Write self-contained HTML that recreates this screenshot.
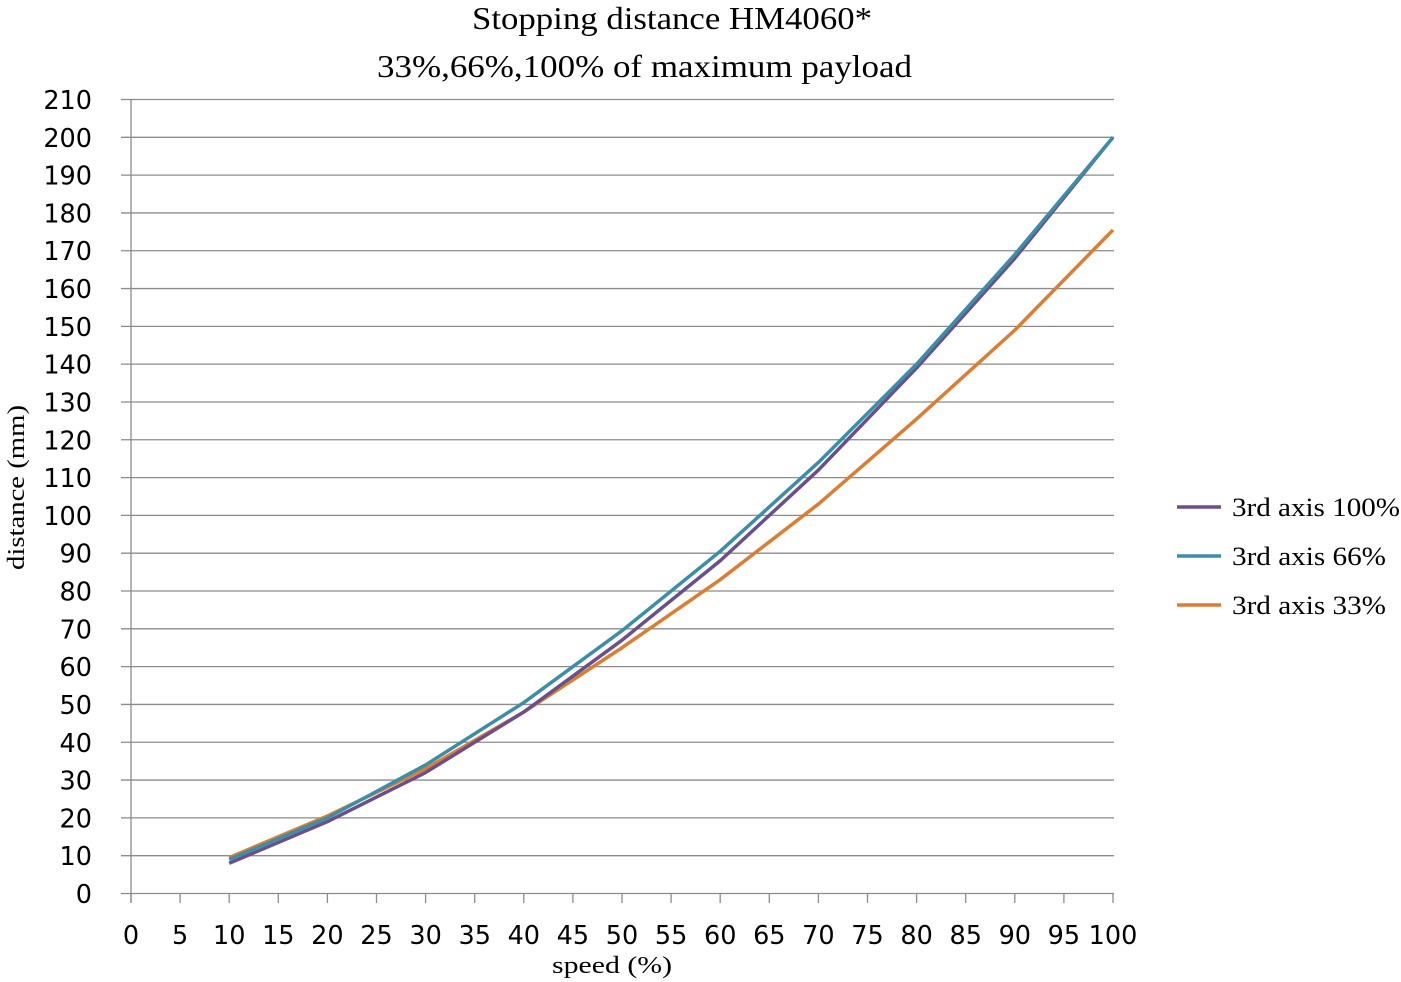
<!DOCTYPE html><html><head><style>body{margin:0;background:#fff}svg{display:block}</style></head><body>
<svg id="s" width="1401" height="982" xmlns="http://www.w3.org/2000/svg"></svg>
<script>
const s=document.getElementById('s');let h='';
const X=v=>131+v*9.82,Y=d=>893.5-d*3.781;
h+='<text x="472" y="29" textLength="400" lengthAdjust="spacingAndGlyphs" font-family="Liberation Serif,serif" font-size="32">Stopping distance HM4060*</text>';
h+='<text x="377" y="77" textLength="535" lengthAdjust="spacingAndGlyphs" font-family="Liberation Serif,serif" font-size="32">33%,66%,100% of maximum payload</text>';
for(let d=0;d<=210;d+=10){const y=Y(d);h+=`<line x1="121" x2="1114" y1="${y}" y2="${y}" stroke="#8c8c8c" stroke-width="1.3"/>`;
h+=`<text x="92" y="${y+9.5}" font-family="DejaVu Sans,sans-serif" font-size="25.5" text-anchor="end">${d}</text>`;}
h+=`<line x1="131" x2="131" y1="${Y(210)}" y2="903" stroke="#8c8c8c" stroke-width="1.3"/>`;
for(let v=0;v<=100;v+=5){const x=X(v);h+=`<line x1="${x}" x2="${x}" y1="893" y2="903" stroke="#8c8c8c" stroke-width="1.3"/>`;
h+=`<text x="${x}" y="944" font-family="DejaVu Sans,sans-serif" font-size="25.5" text-anchor="middle">${v}</text>`;}
h+='<text x="552" y="973" textLength="120" lengthAdjust="spacingAndGlyphs" font-family="Liberation Serif,serif" font-size="24">speed  (%)</text>';
h+='<text transform="translate(24,570) rotate(-90)" textLength="165" lengthAdjust="spacingAndGlyphs" font-family="Liberation Serif,serif" font-size="24">distance (mm)</text>';
const S=[['#dd7d31',[9.5,20.5,33,48,65,83,103,125.5,149,175.5]],['#6a4f8c',[8,19,32,48,67,88,112,139,168,200]],['#3a8fa6',[9,20,34,50.5,69.5,90.5,114,140,169,200]]];
for(const [c,d] of S){h+=`<polyline fill="none" stroke="${c}" stroke-width="3.5" stroke-linejoin="round" points="${d.map((v,i)=>X(10+i*10)+','+Y(v)).join(' ')}"/>`;}
const L=[['#6a4f8c','3rd axis 100%',507,168],['#3a8fa6','3rd axis 66%',556,154],['#dd7d31','3rd axis 33%',605,154]];
for(const [c,t,y,w] of L){h+=`<line x1="1177" x2="1221" y1="${y}" y2="${y}" stroke="${c}" stroke-width="3.5"/><text x="1232" y="${y+9}" textLength="${w}" lengthAdjust="spacingAndGlyphs" font-family="Liberation Serif,serif" font-size="26">${t}</text>`;}
s.innerHTML=h;
</script></body></html>
